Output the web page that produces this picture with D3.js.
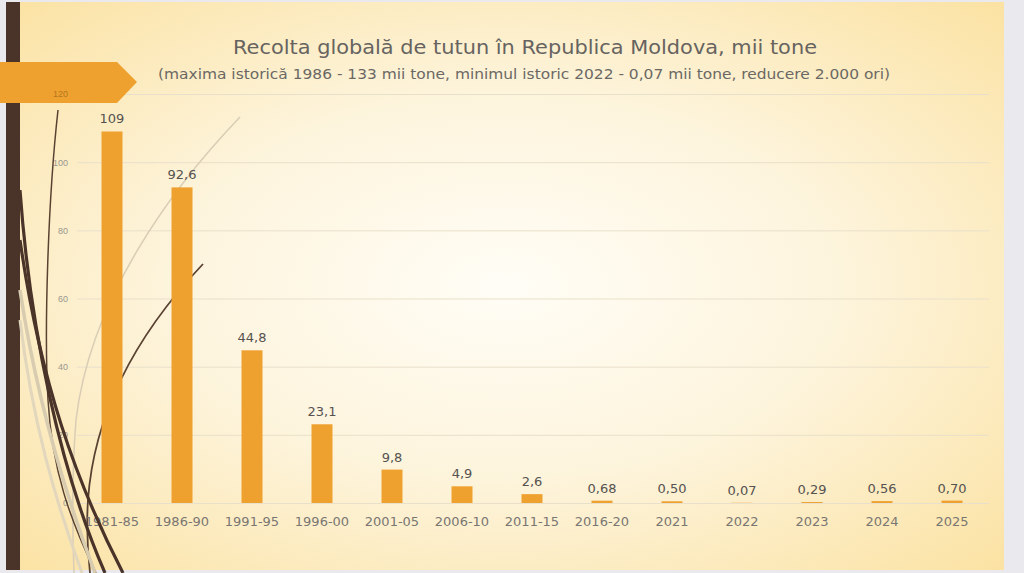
<!DOCTYPE html>
<html>
<head>
<meta charset="utf-8">
<script src="https://cdn.jsdelivr.net/npm/d3@7"></script>
<style>
  html, body { margin: 0; padding: 0; background: #e9e9ee; }
  svg { display: block; }
</style>
</head>
<body>
<svg id="chart"></svg>
<script>
// data
const categories = ["1981-85", "1986-90", "1991-95", "1996-00", "2001-05", "2006-10", "2011-15",
                    "2016-20", "2021", "2022", "2023", "2024", "2025"];
const values = [109, 92.6, 44.8, 23.1, 9.8, 4.9, 2.6, 0.68, 0.50, 0.07, 0.29, 0.56, 0.70];
const valueLabels = ["109", "92,6", "44,8", "23,1", "9,8", "4,9", "2,6", "0,68", "0,50", "0,07", "0,29", "0,56", "0,70"];
const yTicks = [0, 20, 40, 60, 80, 100, 120];

const title = "Recolta globală de tutun în Republica Moldova, mii tone";
const subtitle = "(maxima istorică 1986 - 133 mii tone, minimul istoric 2022 - 0,07 mii tone, reducere 2.000 ori)";

const width = 1024, height = 573;
const margin = {top: 94, right: 37, bottom: 70, left: 77};
const labelFont = "'DejaVu Sans', Verdana, sans-serif";

const svg = d3.select("#chart")
    .attr("width", width)
    .attr("height", height)
    .style("font-family", labelFont);

// slide background
const defs = svg.append("defs");
const grad = defs.append("radialGradient")
    .attr("id", "bg")
    .attr("cx", "50%").attr("cy", "50%").attr("r", "75%");
grad.append("stop").attr("offset", "0%").attr("stop-color", "#fffdf6");
grad.append("stop").attr("offset", "45%").attr("stop-color", "#fdf4dc");
grad.append("stop").attr("offset", "100%").attr("stop-color", "#fbe09c");

svg.append("rect")
    .attr("x", 0).attr("y", 0)
    .attr("width", width).attr("height", height)
    .attr("fill", "#e9e9ee");
svg.append("rect")
    .attr("x", 6).attr("y", 2)
    .attr("width", 998).attr("height", 568)
    .attr("fill", "url(#bg)");

// dark vertical stripe on the left
svg.append("rect")
    .attr("x", 6).attr("y", 2)
    .attr("width", 14).attr("height", 568)
    .attr("fill", "#4a3429");

const x = d3.scaleBand()
    .domain(categories)
    .range([margin.left, width - margin.right])
    .paddingInner(0.7)
    .paddingOuter(0.35);

const y = d3.scaleLinear()
    .domain([0, 120])
    .range([height - margin.bottom, margin.top]);

// gridlines + tick labels
const yAxis = svg.append("g")
    .attr("transform", `translate(${margin.left},0)`)
    .call(d3.axisLeft(y).tickValues(yTicks).tickSize(-912).tickPadding(9));
yAxis.select(".domain").remove();
yAxis.selectAll(".tick line").attr("stroke", "#e9e0cb").attr("stroke-width", 1);
yAxis.selectAll(".tick text")
    .attr("fill", "#9a9690")
    .style("font-family", "'Liberation Sans', Arial, sans-serif")
    .style("font-size", "9px");

// thin decorative curves behind the bars
const deco = svg.append("g").attr("fill", "none");
deco.append("path")
    .attr("d", "M240,117 C170,190 90,300 76,420 C72,470 72,520 74,573")
    .attr("stroke", "#d9cdb5").attr("stroke-width", 1.5);
deco.append("path")
    .attr("d", "M203,264 C150,320 95,400 88,500 C86,530 88,555 90,573")
    .attr("stroke", "#5a4232").attr("stroke-width", 1.8);
deco.append("path")
    .attr("d", "M58,110 C48,200 44,330 48,400 C52,470 70,520 96,573")
    .attr("stroke", "#5a4232").attr("stroke-width", 1.5);

// bars
svg.append("g")
    .selectAll("rect")
    .data(values)
    .join("rect")
    .attr("x", (d, i) => x(categories[i]))
    .attr("y", d => y(d))
    .attr("width", x.bandwidth())
    .attr("height", d => y(0) - y(d))
    .attr("fill", "#efa12f");

// value labels
svg.append("g")
    .selectAll("text")
    .data(values)
    .join("text")
    .attr("x", (d, i) => x(categories[i]) + x.bandwidth() / 2)
    .attr("y", d => y(d) - 8)
    .attr("text-anchor", "middle")
    .attr("fill", "#555250")
    .style("font-size", "13px")
    .text((d, i) => valueLabels[i]);

// category labels
svg.append("g")
    .selectAll("text")
    .data(categories)
    .join("text")
    .attr("x", d => x(d) + x.bandwidth() / 2)
    .attr("y", y(0) + 23)
    .attr("text-anchor", "middle")
    .attr("fill", "#7a7672")
    .style("font-size", "13px")
    .text(d => d);

// thick curves in front
const front = svg.append("g").attr("fill", "none");
front.append("path")
    .attr("d", "M20,290 C35,390 60,480 95,573")
    .attr("stroke", "#d8ccb0").attr("stroke-width", 3.5);
front.append("path")
    .attr("d", "M20,320 C32,420 55,500 82,573")
    .attr("stroke", "#e2d7bd").attr("stroke-width", 3);
front.append("path")
    .attr("d", "M20,190 C30,330 60,470 105,573")
    .attr("stroke", "#4a3429").attr("stroke-width", 3.2);
front.append("path")
    .attr("d", "M20,240 C40,380 75,480 123,573")
    .attr("stroke", "#4a3429").attr("stroke-width", 3.2);

// orange arrow banner
svg.append("path")
    .attr("d", "M0,62 L117,62 L137,82 L117,103 L0,103 Z")
    .attr("fill", "#efa12f");

// tick label 120 sits over the banner, redraw on top
svg.append("text")
    .attr("x", margin.left - 9)
    .attr("y", y(120))
    .attr("dy", "0.32em")
    .attr("text-anchor", "end")
    .attr("fill", "#b4761f")
    .style("font-family", "'Liberation Sans', Arial, sans-serif")
    .style("font-size", "9px")
    .text("120");

// titles
svg.append("text")
    .attr("x", 525).attr("y", 54)
    .attr("text-anchor", "middle")
    .attr("fill", "#666360")
    .attr("textLength", 584)
    .attr("lengthAdjust", "spacingAndGlyphs")
    .style("font-size", "19px")
    .text(title);
svg.append("text")
    .attr("x", 524).attr("y", 79)
    .attr("text-anchor", "middle")
    .attr("fill", "#6b6864")
    .attr("textLength", 732)
    .attr("lengthAdjust", "spacingAndGlyphs")
    .style("font-size", "14px")
    .text(subtitle);
</script>
</body>
</html>
